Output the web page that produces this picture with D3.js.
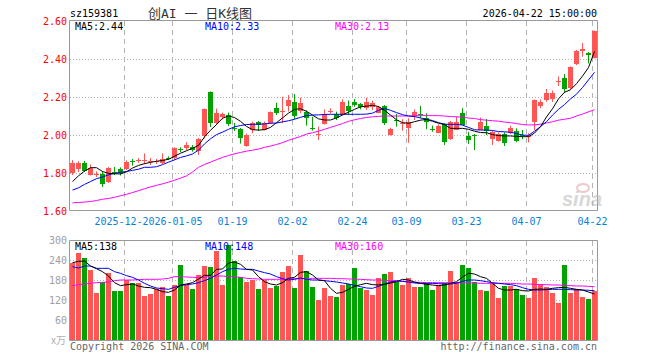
<!DOCTYPE html>
<html><head><meta charset="utf-8">
<script src="https://cdn.jsdelivr.net/npm/d3@7"></script>
<style>body{margin:0;background:#fff}svg{display:block}</style>
</head><body><svg id="c" width="660" height="360"></svg>
<script>
const dates = [
"2025-12-09","2025-12-10","2025-12-11","2025-12-12","2025-12-15","2025-12-16","2025-12-17","2025-12-18","2025-12-19","2025-12-22","2025-12-23","2025-12-24","2025-12-25","2025-12-26","2025-12-29","2025-12-30","2025-12-31",
"2026-01-05","2026-01-06","2026-01-07","2026-01-08","2026-01-09","2026-01-12","2026-01-13","2026-01-14","2026-01-15","2026-01-16","2026-01-19","2026-01-20","2026-01-21","2026-01-22","2026-01-23","2026-01-26","2026-01-27","2026-01-28","2026-01-29","2026-01-30",
"2026-02-02","2026-02-03","2026-02-04","2026-02-05","2026-02-06","2026-02-09","2026-02-10","2026-02-11","2026-02-12","2026-02-13","2026-02-24","2026-02-25","2026-02-26","2026-02-27",
"2026-03-02","2026-03-03","2026-03-04","2026-03-05","2026-03-06","2026-03-09","2026-03-10","2026-03-11","2026-03-12","2026-03-13","2026-03-16","2026-03-17","2026-03-18","2026-03-19","2026-03-20","2026-03-23","2026-03-24","2026-03-25","2026-03-26","2026-03-27","2026-03-30","2026-03-31",
"2026-04-01","2026-04-02","2026-04-03","2026-04-07","2026-04-08","2026-04-09","2026-04-10","2026-04-13","2026-04-14","2026-04-15","2026-04-16","2026-04-17","2026-04-20","2026-04-21","2026-04-22"];

const opens = [1.798,1.825,1.854,1.789,1.789,1.797,1.749,1.805,1.819,1.819,1.861,1.866,1.863,1.861,1.855,1.851,1.879,1.877,1.926,1.930,1.938,1.917,1.995,2.226,2.062,2.091,2.105,2.039,2.030,1.944,2.023,2.070,2.026,2.062,2.144,2.119,2.154,2.174,2.128,2.123,2.038,2.003,2.056,2.124,2.111,2.109,2.153,2.175,2.161,2.146,2.149,2.117,2.153,2.000,2.081,2.059,2.038,2.102,2.111,2.088,2.032,2.014,2.056,1.979,2.030,2.117,1.996,2.002,2.030,2.049,1.977,1.970,2.005,2.014,2.021,2.002,1.988,2.070,2.154,2.184,2.187,2.279,2.302,2.246,2.372,2.438,2.433,2.405];
const closes = [1.851,1.854,1.811,1.826,1.795,1.746,1.825,1.800,1.798,1.858,1.855,1.871,1.868,1.865,1.861,1.872,1.875,1.930,1.922,1.947,1.921,1.979,2.137,2.062,2.117,2.109,2.056,2.034,1.983,2.000,2.062,2.053,2.065,2.119,2.119,2.126,2.184,2.100,2.170,2.093,2.034,2.006,2.111,2.128,2.091,2.175,2.128,2.158,2.144,2.175,2.170,2.146,2.065,2.032,2.077,2.063,2.067,2.123,2.107,2.067,2.028,2.049,1.959,2.070,2.070,2.056,1.974,1.998,2.070,2.021,2.014,2.005,1.956,2.038,1.970,1.998,1.995,2.184,2.175,2.219,2.221,2.283,2.246,2.356,2.442,2.451,2.425,2.547];
const highs = [1.868,1.862,1.863,1.845,1.808,1.808,1.832,1.832,1.829,1.866,1.874,1.879,1.903,1.879,1.874,1.903,1.887,1.935,1.935,1.962,1.947,1.984,2.139,2.229,2.139,2.118,2.118,2.063,2.037,2.008,2.070,2.074,2.071,2.124,2.170,2.202,2.210,2.216,2.197,2.129,2.096,2.044,2.135,2.141,2.123,2.188,2.181,2.189,2.168,2.196,2.181,2.153,2.158,2.038,2.111,2.083,2.088,2.135,2.153,2.114,2.049,2.056,2.062,2.074,2.096,2.141,2.017,2.005,2.091,2.084,2.021,2.014,2.014,2.049,2.035,2.026,2.009,2.187,2.188,2.242,2.234,2.308,2.321,2.361,2.447,2.484,2.437,2.550];
const lows = [1.790,1.805,1.805,1.787,1.779,1.726,1.747,1.789,1.787,1.816,1.839,1.853,1.847,1.842,1.847,1.847,1.868,1.868,1.910,1.921,1.912,1.895,1.982,2.042,2.053,2.082,2.047,2.021,1.955,1.938,2.009,2.021,2.024,2.058,2.105,2.062,2.123,2.083,2.114,2.049,2.023,1.974,2.055,2.113,2.079,2.105,2.105,2.149,2.135,2.132,2.132,2.114,2.053,1.997,2.044,2.023,1.959,2.079,2.088,2.030,2.017,2.009,1.947,1.974,2.026,2.053,1.953,1.921,2.026,2.000,1.947,1.965,1.942,2.005,1.962,1.977,1.961,2.026,2.141,2.175,2.174,2.258,2.223,2.242,2.368,2.412,2.377,2.403];
const volumes = [230,262,245,210,142,175,202,147,147,180,172,170,133,138,152,158,133,165,226,165,152,195,223,220,268,165,285,238,190,175,180,153,180,155,163,205,223,157,256,207,160,120,157,132,130,165,168,217,157,150,135,187,197,204,175,165,187,160,160,170,150,165,170,208,175,226,217,173,150,147,170,127,163,163,153,135,127,187,168,158,140,112,226,140,152,130,123,147];

const ma5 = [1.755,1.785,1.810,1.828,1.828,1.808,1.798,1.796,1.795,1.806,1.826,1.840,1.849,1.856,1.862,1.866,1.872,1.888,1.904,1.917,1.930,1.945,1.990,2.025,2.055,2.088,2.100,2.092,2.072,2.045,2.028,2.026,2.028,2.040,2.065,2.090,2.115,2.135,2.138,2.125,2.105,2.085,2.079,2.079,2.090,2.105,2.120,2.135,2.148,2.152,2.156,2.150,2.130,2.105,2.080,2.065,2.062,2.070,2.078,2.082,2.072,2.062,2.055,2.035,2.035,2.035,2.030,2.020,2.013,2.012,2.002,1.997,1.995,1.995,1.993,1.991,1.991,2.010,2.044,2.095,2.138,2.190,2.225,2.238,2.270,2.310,2.355,2.440];
const ma10 = [1.710,1.722,1.740,1.755,1.770,1.779,1.790,1.798,1.804,1.808,1.814,1.820,1.830,1.830,1.833,1.844,1.857,1.869,1.882,1.890,1.900,1.920,1.953,1.980,2.002,2.015,2.030,2.043,2.050,2.055,2.056,2.057,2.058,2.062,2.063,2.069,2.075,2.083,2.093,2.102,2.105,2.106,2.108,2.109,2.109,2.109,2.109,2.109,2.109,2.110,2.115,2.130,2.140,2.130,2.118,2.107,2.100,2.097,2.090,2.083,2.076,2.065,2.057,2.056,2.056,2.052,2.040,2.028,2.026,2.026,2.024,2.018,2.017,2.014,2.008,2.000,1.998,2.020,2.044,2.070,2.105,2.135,2.160,2.190,2.215,2.250,2.290,2.330];
const ma30 = [1.643,1.645,1.647,1.650,1.655,1.662,1.666,1.672,1.680,1.688,1.697,1.707,1.717,1.727,1.735,1.743,1.752,1.762,1.773,1.785,1.805,1.830,1.845,1.857,1.870,1.882,1.892,1.901,1.908,1.915,1.920,1.926,1.935,1.942,1.950,1.960,1.972,1.982,1.992,2.005,2.012,2.020,2.030,2.040,2.050,2.060,2.072,2.080,2.087,2.092,2.096,2.098,2.100,2.100,2.100,2.100,2.100,2.101,2.102,2.102,2.102,2.102,2.100,2.097,2.096,2.094,2.089,2.087,2.081,2.078,2.075,2.073,2.068,2.065,2.060,2.055,2.053,2.053,2.057,2.063,2.070,2.078,2.083,2.088,2.100,2.110,2.122,2.133];

const vma5 = [232,236,237,222,214,205,192,172,163,166,168,162,158,157,152,145,143,150,165,168,172,183,194,194,212,213,231,234,227,212,210,190,175,168,165,172,185,188,203,205,195,180,178,155,140,143,152,161,166,170,166,165,167,171,175,182,180,174,170,167,165,163,165,170,175,189,200,198,190,185,170,155,150,150,152,148,147,152,153,152,155,157,158,155,152,150,144,138];
const vma10 = [220,216,222,222,215,215,215,205,200,193,188,180,170,162,156,154,152,158,163,166,168,172,178,185,195,205,212,215,213,212,212,207,202,198,190,184,180,182,186,182,180,180,178,176,174,171,168,164,160,156,155,161,168,174,177,176,174,171,170,170,170,169,168,168,170,176,180,180,178,175,172,170,168,166,163,157,152,150,150,151,152,152,152,151,150,150,149,148];
const vma30 = [163,166,168,170,172,173,174,178,180,180,180,181,182,182,182,183,185,190,190,189,188,187,188,191,192,192,190,190,188,185,184,183,182,182,182,182,183,184,184,185,185,185,185,185,184,184,183,183,182,181,180,180,179,178,178,176,174,173,173,172,172,172,172,172,172,172,171,171,170,170,170,170,170,170,169,168,168,167,166,166,165,165,164,163,162,162,161,160];

const priceTicks = [1.6,1.8,2.0,2.2,2.4,2.6];
const volTicks = [60,120,180,240,300];
const tickDates = ["2025-12-22","2026-01-05","2026-01-19","2026-02-02","2026-02-24","2026-03-09","2026-03-23","2026-04-07","2026-04-22"];
// the first label is partly hidden by the second one in the original; only "2025-12-" shows
const tickLabels = ["2025-12-","2026-01-05","01-19","02-02","02-24","03-09","03-23","04-07","04-22"];

const UP = "#ff5555", DOWN = "#00a300";
const MONO = "'DejaVu Sans Mono', monospace";
const FS = 10;
const CW = 6.02;
const svg = d3.select("#c");

const L = 70, R = 597;
const x = d3.scaleBand().domain(dates).range([L, R]).paddingInner(1/6).paddingOuter(0);
const y = d3.scaleLinear().domain([1.6, 2.6]).range([211, 21]);
const yv = d3.scaleLinear().domain([0, 300]).range([340, 240]);
const bx = d => Math.round(x(d));
const cx = d => Math.round(x(d)) + 2.5;
const gx = d => Math.round(x(d)) + 0.5;

function panel(top, bottom, gridVals, ys) {
  const g = svg.append("g");
  g.selectAll("line.h").data(gridVals).join("line")
    .attr("x1", L).attr("x2", R).attr("y1", v => Math.round(ys(v)) + 0.5).attr("y2", v => Math.round(ys(v)) + 0.5)
    .attr("stroke", "#b4b4b4").attr("stroke-dasharray", "1,2");
  g.selectAll("line.v").data(tickDates).join("line")
    .attr("x1", gx).attr("x2", gx).attr("y1", top).attr("y2", bottom)
    .attr("stroke", "#b4b4b4").attr("stroke-dasharray", "5,4");
  return g;
}
panel(21, 210, [1.8, 2.0, 2.2, 2.4], y);
panel(241, 340, [60, 120, 180, 240], yv);

// candles
const idx = d3.range(dates.length);
const cg = svg.append("g");
cg.selectAll("line").data(idx).join("line")
  .attr("x1", i => cx(dates[i])).attr("x2", i => cx(dates[i]))
  .attr("y1", i => y(highs[i])).attr("y2", i => y(lows[i]))
  .attr("stroke", i => closes[i] >= opens[i] ? UP : DOWN);
cg.selectAll("rect").data(idx).join("rect")
  .attr("x", i => bx(dates[i])).attr("width", 5)
  .attr("y", i => Math.round(y(Math.max(opens[i], closes[i]))))
  .attr("height", i => Math.max(1, Math.round(Math.abs(y(opens[i]) - y(closes[i])))))
  .attr("fill", i => closes[i] >= opens[i] ? UP : DOWN);

// volume bars
svg.append("g").selectAll("rect").data(idx).join("rect")
  .attr("x", i => bx(dates[i])).attr("width", 5)
  .attr("y", i => Math.round(yv(volumes[i]))).attr("height", i => 340 - Math.round(yv(volumes[i])))
  .attr("fill", i => closes[i] >= opens[i] ? UP : DOWN);

// MA lines
function maLine(arr, ys, color) {
  svg.append("path").datum(idx)
    .attr("d", d3.line().x(i => cx(dates[i])).y(i => ys(arr[i])))
    .attr("fill", "none").attr("stroke", color).attr("stroke-width", 1);
}
maLine(ma30, y, "#ff00ff"); maLine(ma10, y, "#0000ff"); maLine(ma5, y, "#000000");
maLine(vma30, yv, "#ff00ff"); maLine(vma10, yv, "#0000ff"); maLine(vma5, yv, "#000000");

// frames
[[20.5, 210.5], [240.5, 340.5]].forEach(([t, b]) => {
  svg.append("path").attr("d", `M${L - 0.5},${t}H${R + 0.5}V${b}H${L - 0.5}Z`)
    .attr("fill", "none").attr("stroke", "#999");
});

// axes
const ay = svg.append("g").attr("transform", `translate(67,0)`)
  .call(d3.axisLeft(y).tickValues(priceTicks).tickFormat(d3.format(".2f")).tickSize(0).tickPadding(0));
ay.select(".domain").remove();
ay.selectAll("text").attr("fill", "#ff0000").attr("font-family", MONO).attr("font-size", FS);

const av = svg.append("g").attr("transform", `translate(67,0)`)
  .call(d3.axisLeft(yv).tickValues(volTicks).tickSize(0).tickPadding(0));
av.select(".domain").remove();
av.selectAll("text").attr("fill", "#a0a0a0").attr("font-family", MONO).attr("font-size", FS);
svg.append("text").attr("x", 66).attr("y", 344).attr("text-anchor", "end")
  .attr("fill", "#b0b0b0").attr("font-size", 10).attr("font-family", "'Noto Sans CJK SC', sans-serif").text("x万");

// x labels: centred on their grid line; a truncated label keeps the start of a full 10-char date
const xl = svg.append("g");
tickDates.forEach((d, k) => {
  const t = tickLabels[k];
  const fullW = d.length === t.length ? t.length * CW : 10 * CW;
  const x0 = gx(d) - (t.length <= 5 ? t.length * CW : fullW) / 2;
  xl.append("text").attr("x", x0).attr("y", 224.5).attr("text-anchor", "start")
    .attr("fill", "#0a7fd8").attr("font-family", MONO).attr("font-size", FS).text(t);
});

// header / labels
function txt(xp, yp, s, color, anchor, size, fam) {
  svg.append("text").attr("x", xp).attr("y", yp).attr("fill", color)
    .attr("text-anchor", anchor || "start").attr("font-size", size || FS)
    .attr("font-family", fam || MONO).text(s);
}
txt(70, 17, "sz159381", "#000");
txt(200, 18, "创AI 一 日K线图", "#333", "middle", 13, "'DejaVu Sans Mono', 'Noto Sans CJK SC', sans-serif");
txt(597, 17, "2026-04-22 15:00:00", "#000", "end");
const last = dates.length - 1;
txt(75, 29.5, "MA5:" + ma5[last].toFixed(2), "#000");
txt(205, 29.5, "MA10:" + ma10[last].toFixed(2), "#0000ff");
txt(335, 29.5, "MA30:" + ma30[last].toFixed(2), "#ff00ff");
txt(75, 249.5, "MA5:" + vma5[last], "#000");
txt(205, 249.5, "MA10:" + vma10[last], "#0000ff");
txt(335, 249.5, "MA30:" + vma30[last], "#ff00ff");
txt(70, 349.5, "Copyright 2026 SINA.COM", "#666");
txt(597, 349.5, "http://finance.sina.com.cn", "#666", "end");

// sina watermark
const wm = svg.append("g").attr("opacity", 0.55);
wm.append("ellipse").attr("cx", 583).attr("cy", 188).attr("rx", 6).attr("ry", 4)
  .attr("fill", "none").attr("stroke", "#e4a0a0").attr("stroke-width", 2);
wm.append("text").attr("x", 562).attr("y", 206).attr("font-family", "'Liberation Sans', sans-serif")
  .attr("font-weight", "bold").attr("font-style", "italic").attr("font-size", 20).attr("fill", "#b8b8b8").text("sina");
</script>
</body></html>
